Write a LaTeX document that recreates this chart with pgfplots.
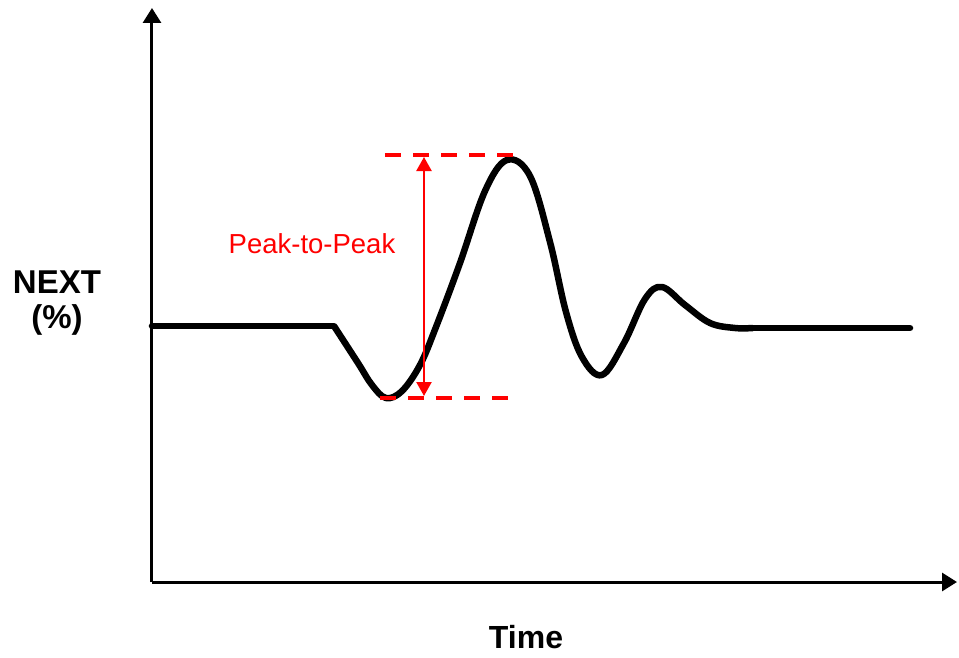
\documentclass[border=0pt]{standalone}
\usepackage{pgfplots}
\pgfplotsset{compat=1.18}
\usetikzlibrary{arrows.meta}
\usepackage{fontspec}
\setmainfont{Liberation Sans}

% pixel coordinates of the reference, y flipped (y = 657 - row)
\begin{document}
\begin{tikzpicture}
\begin{axis}[
    scale only axis,
    width=805pt, height=574pt,
    xmin=152, xmax=957, ymin=75, ymax=649,
    axis lines=left,
    enlargelimits=false,
    ticks=none,
    clip=false,
    axis line style={line width=3pt, -{Triangle[length=15pt,width=18pt]}},
]
\path (axis cs:0,0) rectangle (axis cs:959,657);

% NEXT waveform
\addplot[black, line width=6.5pt, line cap=round] coordinates {(152,331) (334,331)};
\addplot[black, line width=6.5pt, line join=round, smooth, tension=0.6] coordinates {
    (334,331) (358,294) (372,272) (386,259) (402,266) (420,292) (436,330)
    (460,394) (485,466) (507,497) (530,481) (550,415) (566,345) (582,300)
    (602,282) (624,314) (645,358) (662,370) (685,352) (710,334)
    (735,329) (753,329)};
\addplot[black, line width=6.5pt, line cap=round] coordinates {(753,329) (910,329)};

% peak-to-peak markers
\addplot[red, line width=4.5pt, dash pattern=on 16pt off 12pt] coordinates {(385,502) (522,502)};
\addplot[red, line width=4.5pt, dash pattern=on 16pt off 12pt] coordinates {(380,259) (512,259)};
\draw[red, line width=2.4pt, {Triangle[length=14pt,width=15pt]}-{Triangle[length=14pt,width=15pt]}]
    (axis cs:424,500) -- (axis cs:424,261);
\node[red, anchor=base, font=\fontsize{27.5}{31}\selectfont] at (axis cs:312,404) {Peak-to-Peak};

% axis labels
\node[anchor=base, font=\fontsize{33}{37}\selectfont\bfseries] at (axis cs:57,364) {NEXT};
\node[anchor=base, font=\fontsize{33}{37}\selectfont\bfseries] at (axis cs:57,329) {(\%)};
\node[anchor=base, font=\fontsize{32}{36}\selectfont\bfseries] at (axis cs:526,9) {Time};
\end{axis}
\end{tikzpicture}
\end{document}
